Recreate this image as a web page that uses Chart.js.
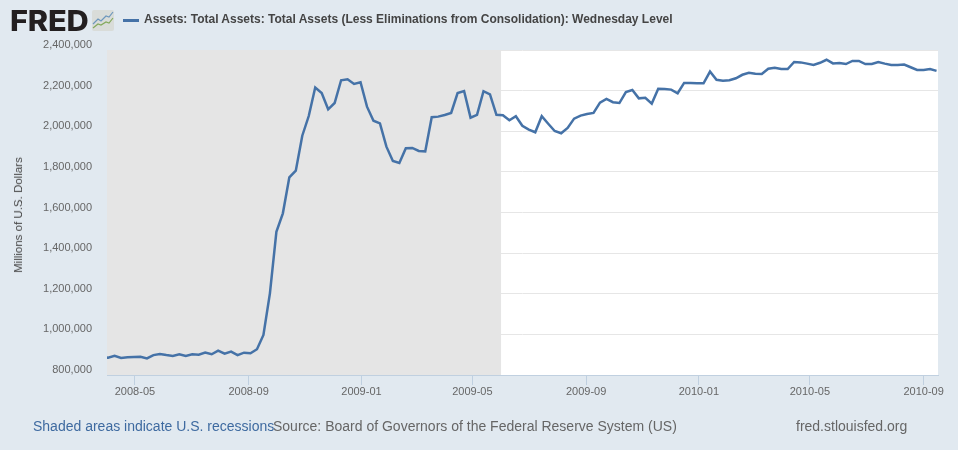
<!DOCTYPE html>
<html>
<head>
<meta charset="utf-8">
<title>FRED Total Assets</title>
<script src="https://cdn.jsdelivr.net/npm/chart.js@4"></script>
<style>
  html, body { margin: 0; padding: 0; background: #e1e9f0; }
  #wrap { position: relative; width: 958px; height: 450px; overflow: hidden; font-family: Arial, "Liberation Sans", sans-serif; }
  #wrap canvas { position: absolute; left: 0; top: 0; }
  .lbl { position: absolute; white-space: nowrap; }
  #logo { left: 10px; top: 5px; font: 800 28px/32px Inter, sans-serif; letter-spacing: -0.2px; color: #231f20; transform: scaleX(1.1); transform-origin: left center; }
  #icon { position: absolute; left: 92px; top: 10px; }
  #swatch { position: absolute; left: 123px; top: 19px; width: 16px; height: 2.5px; }
  #legend { left: 144px; top: 12px; font: bold 12px/14px Arial, "Liberation Sans", sans-serif; color: #444; }
  #ytitle { left: 18px; top: 215px; font: 11.5px/14px Arial, "Liberation Sans", sans-serif; color: #444; transform: translate(-50%, -50%) rotate(-90deg); }
  #note { left: 33px; top: 418px; font: 14px/16px Arial, "Liberation Sans", sans-serif; color: #3e6aa0; }
  #source { left: 273px; top: 418px; font: 14px/16px Arial, "Liberation Sans", sans-serif; color: #666; }
  #site { left: 796px; top: 418px; font: 14px/16px Arial, "Liberation Sans", sans-serif; color: #666; }
</style>
</head>
<body>
<div id="wrap">
  <canvas id="fredChart" width="958" height="450"></canvas>
  <div class="lbl" id="logo">FRED</div>
  <svg id="icon" width="22" height="21" viewBox="0 0 22 21">
    <rect width="22" height="21" rx="2" fill="#d9dcd9"/>
    <polyline points="1,14 6,9 9,11 14,6 17,7 21,2" fill="none" stroke="#6d97bd" stroke-width="1.2"/>
    <polyline points="1,18 6,14 9,15 14,12 17,13 21,8" fill="none" stroke="#83a95c" stroke-width="1.2"/>
  </svg>
  <div id="swatch"></div>
  <div class="lbl" id="legend"></div>
  <div class="lbl" id="ytitle"></div>
  <div class="lbl" id="note">Shaded areas indicate U.S. recessions</div>
  <div class="lbl" id="source">Source: Board of Governors of the Federal Reserve System (US)</div>
  <div class="lbl" id="site">fred.stlouisfed.org</div>
</div>
<script>
var seriesName = 'Assets: Total Assets: Total Assets (Less Eliminations from Consolidation): Wednesday Level';
var yTitle = 'Millions of U.S. Dollars';
var lineColor = '#4572a7';

var weeks = [
  '2008-03-26','2008-04-02','2008-04-09','2008-04-16','2008-04-23','2008-04-30',
  '2008-05-07','2008-05-14','2008-05-21','2008-05-28',
  '2008-06-04','2008-06-11','2008-06-18','2008-06-25',
  '2008-07-02','2008-07-09','2008-07-16','2008-07-23','2008-07-30',
  '2008-08-06','2008-08-13','2008-08-20','2008-08-27',
  '2008-09-03','2008-09-10','2008-09-17','2008-09-24',
  '2008-10-01','2008-10-08','2008-10-15','2008-10-22','2008-10-29',
  '2008-11-05','2008-11-12','2008-11-19','2008-11-26',
  '2008-12-03','2008-12-10','2008-12-17','2008-12-24','2008-12-31',
  '2009-01-07','2009-01-14','2009-01-21','2009-01-28',
  '2009-02-04','2009-02-11','2009-02-18','2009-02-25',
  '2009-03-04','2009-03-11','2009-03-18','2009-03-25',
  '2009-04-01','2009-04-08','2009-04-15','2009-04-22','2009-04-29',
  '2009-05-06','2009-05-13','2009-05-20','2009-05-27',
  '2009-06-03','2009-06-10','2009-06-17','2009-06-24',
  '2009-07-01','2009-07-08','2009-07-15','2009-07-22','2009-07-29',
  '2009-08-05','2009-08-12','2009-08-19','2009-08-26',
  '2009-09-02','2009-09-09','2009-09-16','2009-09-23','2009-09-30',
  '2009-10-07','2009-10-14','2009-10-21','2009-10-28',
  '2009-11-04','2009-11-11','2009-11-18','2009-11-25',
  '2009-12-02','2009-12-09','2009-12-16','2009-12-23','2009-12-30',
  '2010-01-06','2010-01-13','2010-01-20','2010-01-27',
  '2010-02-03','2010-02-10','2010-02-17','2010-02-24',
  '2010-03-03','2010-03-10','2010-03-17','2010-03-24','2010-03-31',
  '2010-04-07','2010-04-14','2010-04-21','2010-04-28',
  '2010-05-05','2010-05-12','2010-05-19','2010-05-26',
  '2010-06-02','2010-06-09','2010-06-16','2010-06-23','2010-06-30',
  '2010-07-07','2010-07-14','2010-07-21','2010-07-28',
  '2010-08-04','2010-08-11','2010-08-18','2010-08-25',
  '2010-09-01','2010-09-08','2010-09-15'
];

var totalAssets = [
  888000,885000,894000,884000,887000,889000,
  890000,882000,898000,903000,
  898000,894000,902000,894000,
  902000,900000,910000,902000,920000,
  905000,915000,898000,910000,
  907000,927000,997000,1202000,
  1505000,1596000,1773000,1806000,1978000,
  2075000,2215000,2188000,2108000,
  2139000,2251000,2256000,2233000,2241000,
  2121000,2052000,2039000,1924000,
  1854000,1844000,1916000,1918000,
  1903000,1901000,2069000,2072000,
  2080000,2090000,2188000,2198000,2067000,
  2081000,2197000,2181000,2081000,
  2079000,2054000,2074000,2027000,
  2008000,1995000,2074000,2037000,2001000,
  1990000,2016000,2062000,2077000,
  2085000,2090000,2141000,2159000,2143000,
  2139000,2193000,2203000,2162000,
  2165000,2136000,2209000,2208000,
  2205000,2187000,2238000,2238000,2236000,
  2236000,2294000,2253000,2249000,
  2251000,2261000,2278000,2288000,
  2283000,2282000,2308000,2313000,2306000,
  2306000,2341000,2339000,2333000,
  2326000,2337000,2352000,2334000,
  2336000,2331000,2346000,2346000,2331000,
  2331000,2341000,2333000,2326000,
  2326000,2328000,2315000,2302000,
  2302000,2306000,2297000
];

var tickMonths = ['2008-05','2008-09','2009-01','2009-05','2009-09','2010-01','2010-05','2010-09'];
var yTicks = [800000,1000000,1200000,1400000,1600000,1800000,2000000,2200000,2400000];
var recessionStart = '2007-12-01';
var recessionEnd = '2009-06-01';
var axisStart = '2008-03-31T19:00:00Z';
var axisEnd = '2010-09-16T14:00:00Z';

document.getElementById('legend').textContent = seriesName;
document.getElementById('ytitle').textContent = yTitle;
document.getElementById('swatch').style.background = lineColor;

function toMs(s) {
  return new Date(s.length == 7 ? s + '-01T00:00:00Z' : (s.length == 10 ? s + 'T00:00:00Z' : s)).getTime();
}

var points = weeks.map(function (w, i) {
  return { x: toMs(w), y: totalAssets[i] };
});

// white plot background, grey recession band on top of the grid lines
var plotBackground = {
  id: 'plotBackground',
  beforeDraw: function (chart) {
    var a = chart.chartArea;
    chart.ctx.save();
    chart.ctx.fillStyle = '#ffffff';
    chart.ctx.fillRect(a.left, a.top, a.right - a.left, a.bottom - a.top);
    chart.ctx.restore();
  },
  beforeDatasetsDraw: function (chart) {
    var a = chart.chartArea;
    var sx = chart.scales.x;
    var x0 = Math.max(sx.getPixelForValue(toMs(recessionStart)), a.left);
    var x1 = sx.getPixelForValue(toMs(recessionEnd));
    chart.ctx.save();
    chart.ctx.fillStyle = '#e5e5e5';
    chart.ctx.fillRect(x0, a.top, x1 - x0, a.bottom - a.top);
    chart.ctx.restore();
  }
};

var fredChart = new Chart(document.getElementById('fredChart').getContext('2d'), {
  type: 'line',
  data: {
    datasets: [{
      label: seriesName,
      data: points,
      borderColor: lineColor,
      borderWidth: 2.5,
      pointRadius: 0,
      tension: 0
    }]
  },
  plugins: [plotBackground],
  options: {
    responsive: false,
    animation: false,
    devicePixelRatio: 1,
    layout: { padding: { left: 0, right: 20, top: 50, bottom: 0 } },
    plugins: { legend: { display: false }, tooltip: { enabled: false } },
    scales: {
      x: {
        type: 'linear',
        min: toMs(axisStart),
        max: toMs(axisEnd),
        afterBuildTicks: function (scale) {
          scale.ticks = tickMonths.map(function (m) { return { value: toMs(m) }; });
        },
        afterFit: function (scale) { scale.height = 75; },
        grid: { drawOnChartArea: false, color: '#c0d0e0', tickLength: 10 },
        border: { color: '#c0d0e0' },
        ticks: {
          autoSkip: false,
          maxRotation: 0,
          padding: 0,
          color: '#666',
          font: { family: 'Arial, "Liberation Sans", sans-serif', size: 11 },
          callback: function (v) { return new Date(v).toISOString().slice(0, 7); }
        }
      },
      y: {
        min: yTicks[0],
        max: yTicks[yTicks.length - 1],
        afterBuildTicks: function (scale) {
          scale.ticks = yTicks.map(function (v) { return { value: v }; });
        },
        afterFit: function (scale) { scale.width = 107; },
        grid: { color: '#e6e6e6', drawTicks: false },
        border: { display: false },
        ticks: {
          padding: 15,
          labelOffset: -5,
          color: '#666',
          font: { family: 'Arial, "Liberation Sans", sans-serif', size: 11 },
          callback: function (v) { return v.toLocaleString('en-US'); }
        }
      }
    }
  }
});
</script>
</body>
</html>
